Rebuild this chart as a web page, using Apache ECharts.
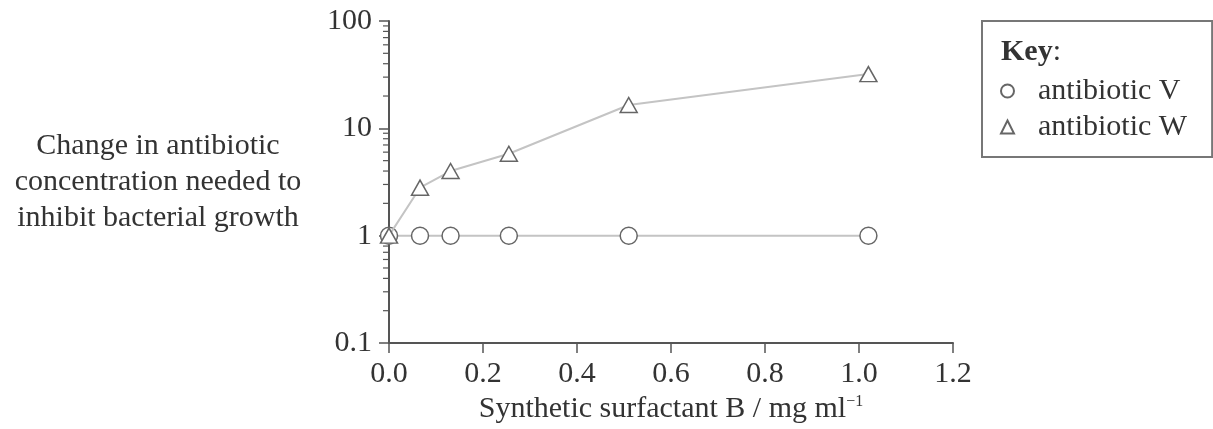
<!DOCTYPE html>
<html>
<head>
<meta charset="utf-8">
<script src="https://cdn.jsdelivr.net/npm/echarts@6/dist/echarts.min.js"></script>
<style>
  html, body { margin: 0; padding: 0; background: #fff; }
  #chart { width: 1213px; height: 429px; }
</style>
</head>
<body>
<div id="chart"></div>
<script>
// surfactant concentration (x) and fold change in antibiotic needed (y)
const concentrations = [0, 0.066, 0.131, 0.255, 0.51, 1.02];
const antibioticV = [1, 1, 1, 1, 1, 1];
const antibioticW = [1, 2.8, 4.0, 5.8, 16.5, 32];

const xTickLabels = ['0.0', '0.2', '0.4', '0.6', '0.8', '1.0', '1.2'];
const yTickLabels = ['0.1', '1', '10', '100'];
// log minor ticks 2..9 in each decade
const yMinorTicks = [0.2, 0.3, 0.4, 0.5, 0.6, 0.7, 0.8, 0.9,
                     2, 3, 4, 5, 6, 7, 8, 9,
                     20, 30, 40, 50, 60, 70, 80, 90];

const font = 'Liberation Serif';
const ink = '#333';
const axisGrey = '#555';

const chart = echarts.init(document.getElementById('chart'));

const pairs = (ys) => concentrations.map((x, i) => [x, ys[i]]);

const markerStyle = { color: '#fff', borderColor: '#666', borderWidth: 1.5 };

const option = {
    animation: false,
    textStyle: { fontFamily: font, color: ink },
    grid: { left: 389, right: 260, top: 21, bottom: 86 },
    title: {
        text: '{b|Key}:',
        left: 1001,
        top: 37,
        padding: 0,
        textStyle: {
            fontFamily: font, fontSize: 30, lineHeight: 30, color: ink, fontWeight: 'normal',
            rich: { b: { fontFamily: font, fontSize: 30, lineHeight: 30, fontWeight: 'bold', color: ink } }
        }
    },
    legend: {
        orient: 'vertical',
        left: 982,
        top: 21,
        padding: [55, 25, 15, 18],
        borderColor: '#777',
        borderWidth: 2,
        itemWidth: 13,
        itemHeight: 13,
        itemGap: 6,
        data: [
            { name: 'antibiotic V', icon: 'circle' },
            { name: 'antibiotic W', icon: 'triangle' }
        ],
        textStyle: { fontFamily: font, fontSize: 30, lineHeight: 30, color: ink, padding: [0, 0, 0, 19] }
    },
    xAxis: {
        type: 'value',
        min: 0,
        max: 1.2,
        interval: 0.2,
        name: '{n|Synthetic surfactant B / mg ml}{s|\u22121}',
        nameLocation: 'middle',
        nameGap: 49,
        nameTextStyle: {
            rich: {
                n: { fontFamily: font, fontSize: 30, lineHeight: 30, color: ink },
                s: { fontFamily: font, fontSize: 16, lineHeight: 16, color: ink, verticalAlign: 'top' }
            }
        },
        axisLine: { show: true, lineStyle: { color: axisGrey, width: 2 } },
        axisTick: { show: true, inside: false, length: 10, lineStyle: { color: axisGrey, width: 1.5 } },
        axisLabel: {
            fontFamily: font, fontSize: 30, color: ink, margin: 16,
            formatter: (v, i) => xTickLabels[i]
        },
        splitLine: { show: false }
    },
    yAxis: {
        type: 'log',
        logBase: 10,
        min: 0.1,
        max: 100,
        name: 'Change in antibiotic\nconcentration needed to\ninhibit bacterial growth',
        nameLocation: 'middle',
        nameRotate: 0,
        nameGap: 231,
        nameTextStyle: {
            fontFamily: font, fontSize: 30, lineHeight: 36, color: ink,
            align: 'center', verticalAlign: 'middle'
        },
        axisLine: { show: true, lineStyle: { color: axisGrey, width: 2 } },
        axisTick: { show: true, inside: false, length: 10, lineStyle: { color: axisGrey, width: 1.5 } },
        axisLabel: {
            fontFamily: font, fontSize: 30, color: ink, margin: 17,
            formatter: (v, i) => yTickLabels[i]
        },
        splitLine: { show: false }
    },
    series: [
        {
            name: 'minor ticks',
            type: 'custom',
            silent: true,
            clip: false,
            data: yMinorTicks.map(v => [0, v]),
            renderItem: (params, api) => {
                const p = api.coord([api.value(0), api.value(1)]);
                return {
                    type: 'line',
                    shape: { x1: p[0] - 6, y1: p[1], x2: p[0], y2: p[1] },
                    style: { stroke: axisGrey, lineWidth: 1.2 }
                };
            }
        },
        {
            name: 'antibiotic V',
            type: 'line',
            data: pairs(antibioticV),
            symbol: 'circle',
            symbolSize: 17,
            itemStyle: markerStyle,
            lineStyle: { color: '#c4c4c4', width: 2 },
            z: 3
        },
        {
            name: 'antibiotic W',
            type: 'line',
            data: pairs(antibioticW),
            symbol: 'triangle',
            symbolSize: [17, 15],
            itemStyle: markerStyle,
            lineStyle: { color: '#c4c4c4', width: 2 },
            z: 4
        }
    ]
};

chart.setOption(option);
</script>
</body>
</html>
